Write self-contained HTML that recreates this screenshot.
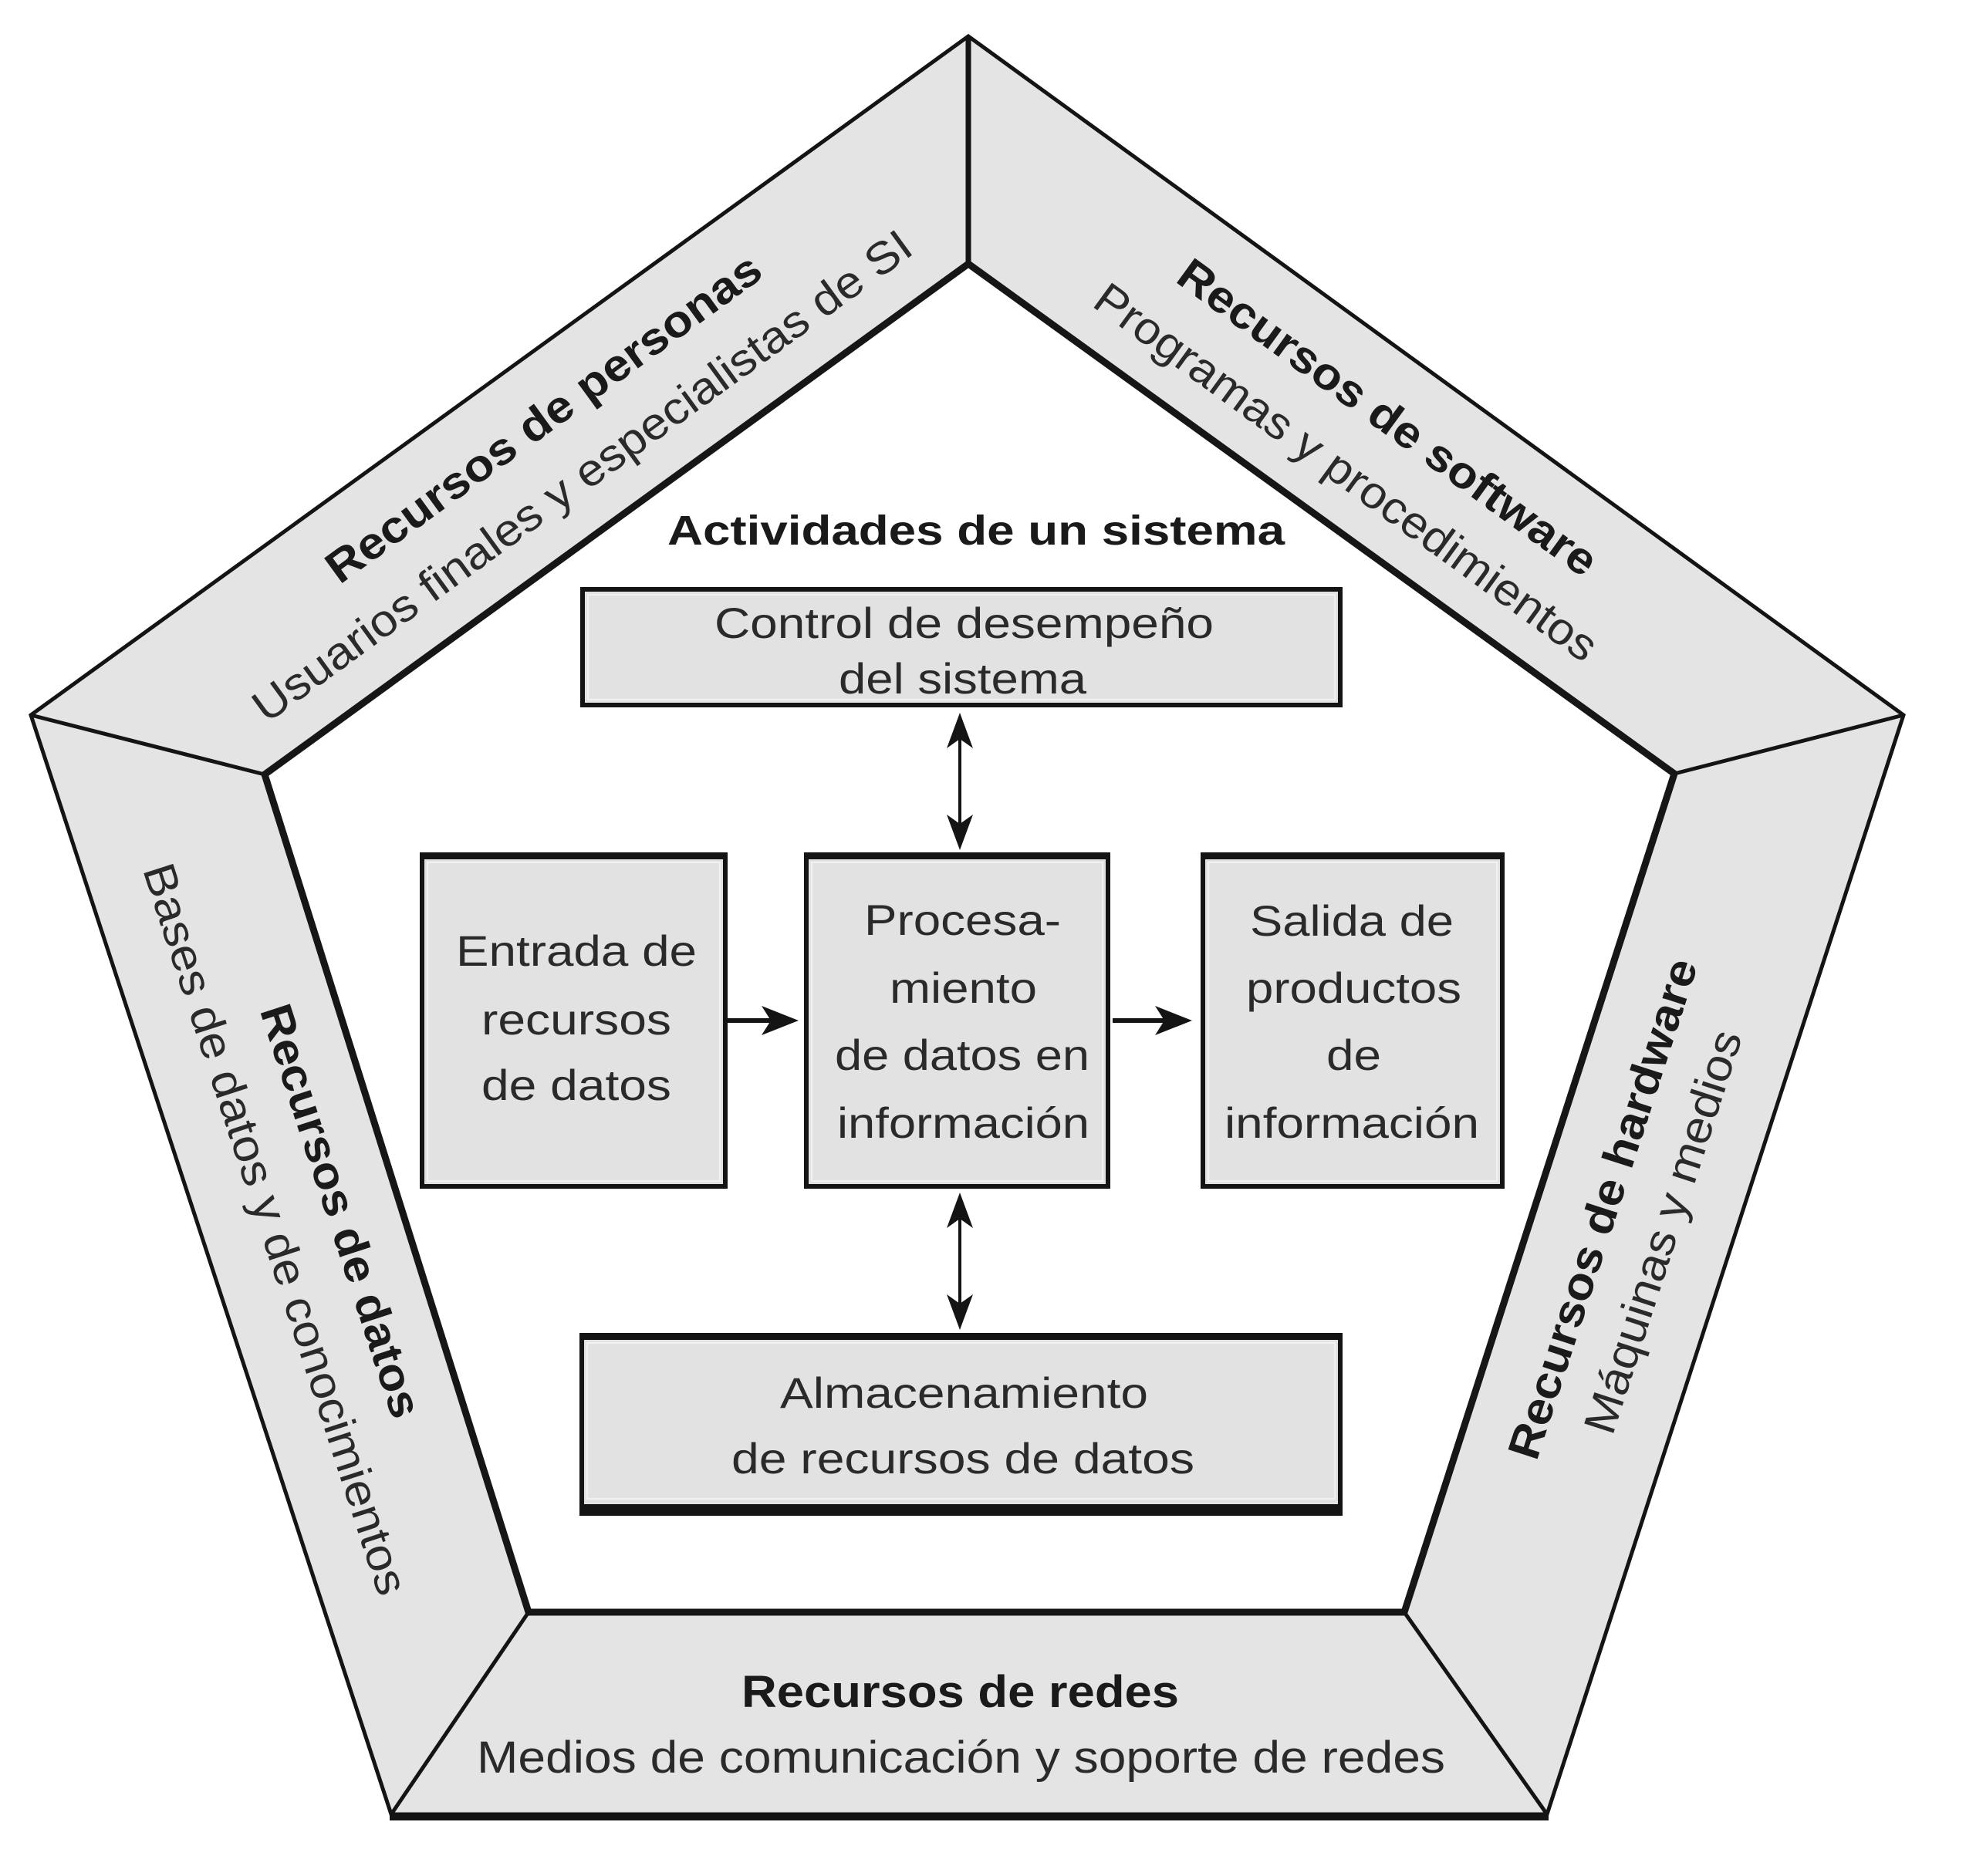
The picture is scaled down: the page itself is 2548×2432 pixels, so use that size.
<!DOCTYPE html>
<html>
<head>
<meta charset="utf-8">
<style>
  html, body { margin: 0; padding: 0; background: #ffffff; }
  body { width: 2548px; height: 2432px; overflow: hidden; }
  svg { display: block; }
  .t { font-family: "Liberation Sans", Arial, sans-serif; fill: #2a2a2a; }
  .b { font-family: "Liberation Sans", Arial, sans-serif; font-weight: bold; fill: #1a1a1a; }
</style>
</head>
<body>
<svg width="2548" height="2432" viewBox="0 0 2548 2432" xmlns="http://www.w3.org/2000/svg">
  <rect x="0" y="0" width="2548" height="2432" fill="#ffffff"/>

  <!-- Outer pentagon (bands) -->
  <polygon points="1255,47 2467,927 2005,2352 507,2352 40,927" fill="#e4e4e4" stroke="#141414" stroke-width="5" stroke-linejoin="miter"/>
  <!-- thicker bottom outer edge -->
  <line x1="505" y1="2355" x2="2007" y2="2355" stroke="#141414" stroke-width="10"/>

  <!-- Inner pentagon -->
  <polygon points="1255,342 2170,1003 1820,2090 685,2090 343,1004" fill="#ffffff" stroke="#161616" stroke-width="9" stroke-linejoin="miter"/>

  <!-- Band dividers -->
  <line x1="1255" y1="47" x2="1255" y2="342" stroke="#141414" stroke-width="7"/>
  <line x1="40" y1="927" x2="343" y2="1004" stroke="#141414" stroke-width="5"/>
  <line x1="2467" y1="927" x2="2170" y2="1003" stroke="#141414" stroke-width="5"/>
  <line x1="507" y1="2352" x2="685" y2="2090" stroke="#141414" stroke-width="5"/>
  <line x1="2005" y1="2352" x2="1820" y2="2090" stroke="#141414" stroke-width="5"/>

  <!-- Band texts -->
  <!-- Top-left: personas -->
  <g transform="translate(716,558) rotate(-36)">
    <text class="b" x="-341" y="0" font-size="58" textLength="682" lengthAdjust="spacingAndGlyphs">Recursos de personas</text>
  </g>
  <g transform="translate(766,633) rotate(-36)">
    <text class="t" x="-520" y="0" font-size="58" textLength="1040" lengthAdjust="spacingAndGlyphs">Usuarios finales y especialistas de SI</text>
  </g>

  <!-- Top-right: software -->
  <g transform="translate(1787,557) rotate(36)">
    <text class="b" x="-328" y="0" font-size="58" textLength="656" lengthAdjust="spacingAndGlyphs">Recursos de software</text>
  </g>
  <g transform="translate(1733,628) rotate(36)">
    <text class="t" x="-395" y="0" font-size="58" textLength="790" lengthAdjust="spacingAndGlyphs">Programas y procedimientos</text>
  </g>

  <!-- Left: datos -->
  <g transform="translate(423,1576) rotate(72)">
    <text class="b" x="-280" y="0" font-size="58" textLength="560" lengthAdjust="spacingAndGlyphs">Recursos de datos</text>
  </g>
  <g transform="translate(338,1599) rotate(72)">
    <text class="t" x="-496" y="0" font-size="58" textLength="993" lengthAdjust="spacingAndGlyphs">Bases de datos y de conocimientos</text>
  </g>

  <!-- Right: hardware -->
  <g transform="translate(2096,1573) rotate(-72)">
    <text class="b" x="-339" y="0" font-size="58" textLength="678" lengthAdjust="spacingAndGlyphs">Recursos de hardware</text>
  </g>
  <g transform="translate(2174,1603) rotate(-72)">
    <text class="t" x="-273" y="0" font-size="58" textLength="546" lengthAdjust="spacingAndGlyphs">Máquinas y medios</text>
  </g>

  <!-- Bottom: redes -->
  <text class="b" x="961" y="2213" font-size="58" textLength="567" lengthAdjust="spacingAndGlyphs">Recursos de redes</text>
  <text class="t" x="618" y="2298" font-size="58" textLength="1255" lengthAdjust="spacingAndGlyphs">Medios de comunicación y soporte de redes</text>

  <!-- Title -->
  <text class="b" x="865" y="706" font-size="54" textLength="800" lengthAdjust="spacingAndGlyphs">Actividades de un sistema</text>

  <!-- Control box -->
  <rect x="755" y="764" width="982" height="150" fill="#e2e2e2" stroke="#141414" stroke-width="6"/>
  <rect x="762" y="771" width="968" height="136" fill="none" stroke="#f2f2f2" stroke-width="2"/>
  <text class="t" x="926" y="827" font-size="56" textLength="647" lengthAdjust="spacingAndGlyphs">Control de desempeño</text>
  <text class="t" x="1087" y="899" font-size="56" textLength="321" lengthAdjust="spacingAndGlyphs">del sistema</text>

  <!-- Entrada box -->
  <rect x="547" y="1108" width="393" height="430" fill="#e2e2e2" stroke="#141414" stroke-width="6"/>
  <rect x="544" y="1105" width="399" height="9" fill="#141414"/>
  <rect x="554" y="1118" width="379" height="413" fill="none" stroke="#f2f2f2" stroke-width="2"/>
  <text class="t" x="591" y="1252" font-size="56" textLength="312" lengthAdjust="spacingAndGlyphs">Entrada de</text>
  <text class="t" x="624" y="1341" font-size="56" textLength="246" lengthAdjust="spacingAndGlyphs">recursos</text>
  <text class="t" x="624" y="1426" font-size="56" textLength="246" lengthAdjust="spacingAndGlyphs">de datos</text>

  <!-- Procesamiento box -->
  <rect x="1045" y="1108" width="391" height="430" fill="#e2e2e2" stroke="#141414" stroke-width="6"/>
  <rect x="1042" y="1105" width="397" height="9" fill="#141414"/>
  <rect x="1052" y="1118" width="377" height="413" fill="none" stroke="#f2f2f2" stroke-width="2"/>
  <text class="t" x="1120" y="1212" font-size="56" textLength="255" lengthAdjust="spacingAndGlyphs">Procesa-</text>
  <text class="t" x="1153" y="1300" font-size="56" textLength="191" lengthAdjust="spacingAndGlyphs">miento</text>
  <text class="t" x="1082" y="1387" font-size="56" textLength="330" lengthAdjust="spacingAndGlyphs">de datos en</text>
  <text class="t" x="1085" y="1475" font-size="56" textLength="327" lengthAdjust="spacingAndGlyphs">información</text>

  <!-- Salida box -->
  <rect x="1559" y="1108" width="388" height="430" fill="#e2e2e2" stroke="#141414" stroke-width="6"/>
  <rect x="1556" y="1105" width="394" height="9" fill="#141414"/>
  <rect x="1566" y="1118" width="374" height="413" fill="none" stroke="#f2f2f2" stroke-width="2"/>
  <text class="t" x="1620" y="1213" font-size="56" textLength="264" lengthAdjust="spacingAndGlyphs">Salida de</text>
  <text class="t" x="1615" y="1300" font-size="56" textLength="279" lengthAdjust="spacingAndGlyphs">productos</text>
  <text class="t" x="1719" y="1387" font-size="56" textLength="71" lengthAdjust="spacingAndGlyphs">de</text>
  <text class="t" x="1587" y="1475" font-size="56" textLength="330" lengthAdjust="spacingAndGlyphs">información</text>

  <!-- Almacenamiento box -->
  <rect x="754" y="1731" width="983" height="224" fill="#e2e2e2" stroke="#141414" stroke-width="6"/>
  <rect x="751" y="1728" width="989" height="9" fill="#141414"/>
  <rect x="751" y="1950" width="989" height="15" fill="#141414"/>
  <rect x="761" y="1741" width="969" height="202" fill="none" stroke="#f2f2f2" stroke-width="2"/>
  <text class="t" x="1011" y="1825" font-size="56" textLength="477" lengthAdjust="spacingAndGlyphs">Almacenamiento</text>
  <text class="t" x="948" y="1910" font-size="56" textLength="600" lengthAdjust="spacingAndGlyphs">de recursos de datos</text>

  <!-- Vertical double arrow: control <-> procesamiento -->
  <line x1="1244" y1="955" x2="1244" y2="1072" stroke="#141414" stroke-width="4"/>
  <polygon points="1244,924 1261,970 1244,958 1227,970" fill="#141414"/>
  <polygon points="1244,1102 1261,1056 1244,1068 1227,1056" fill="#141414"/>

  <!-- Vertical double arrow: procesamiento <-> almacenamiento -->
  <line x1="1244" y1="1576" x2="1244" y2="1694" stroke="#141414" stroke-width="4"/>
  <polygon points="1244,1546 1261,1592 1244,1580 1227,1592" fill="#141414"/>
  <polygon points="1244,1724 1261,1678 1244,1690 1227,1678" fill="#141414"/>

  <!-- Horizontal arrow: entrada -> procesamiento -->
  <line x1="943" y1="1323" x2="1005" y2="1323" stroke="#141414" stroke-width="6"/>
  <polygon points="1035,1323 987,1304 999,1323 987,1342" fill="#141414"/>

  <!-- Horizontal arrow: procesamiento -> salida -->
  <line x1="1442" y1="1323" x2="1515" y2="1323" stroke="#141414" stroke-width="6"/>
  <polygon points="1545,1323 1497,1304 1509,1323 1497,1342" fill="#141414"/>
</svg>
</body>
</html>
